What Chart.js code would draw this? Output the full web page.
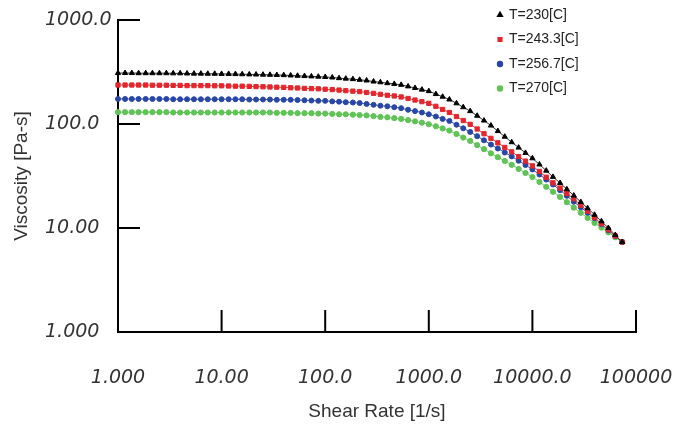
<!DOCTYPE html>
<html>
<head>
<meta charset="utf-8">
<script src="https://cdn.jsdelivr.net/npm/chart.js@4.4.1/dist/chart.umd.min.js"></script>
<style>
    body { margin: 0; background: #fff; }
    canvas { display: block; }
</style>
</head>
<body>
<canvas id="chart" width="680" height="432"></canvas>
<script>
// Datos
const shearRate = [1, 1.17, 1.36, 1.58, 1.85, 2.15, 2.51, 2.93, 3.41, 3.98, 4.64, 5.41, 6.31, 7.36, 8.58,
    10, 11.7, 13.6, 15.8, 18.5, 21.5, 25.1, 29.3, 34.1, 39.8, 46.4, 54.1, 63.1, 73.6, 85.8,
    100, 117, 136, 158, 185, 215, 251, 293, 341, 398, 464, 541, 631, 736, 858,
    1000, 1170, 1360, 1580, 1850, 2150, 2510, 2930, 3410, 3980, 4640, 5410, 6310, 7360, 8580,
    10000, 11700, 13600, 15800, 18500, 21500, 25100, 29300, 34100, 39800, 46400, 54100, 63100, 73600]

const visc230 = [309, 309, 309, 308, 308, 308, 308, 308, 307, 307, 306, 305, 305, 304, 304,
    303, 303, 302, 301, 300, 299, 298, 297, 296, 295, 293, 291, 289, 287, 285,
    283, 280, 276, 273, 270, 266, 262, 256, 252, 247, 243, 238, 230, 222, 214,
    207, 194, 183, 172, 158, 145, 133, 120, 108, 96.6, 85.5, 75.5, 66.8, 59.3, 52.7,
    46.8, 40.8, 35.6, 31.0, 27.1, 23.6, 20.5, 17.8, 15.5, 13.4, 11.6, 10.0, 8.57, 7.33]

const visc243 = [237, 237, 237, 237, 237, 236, 236, 236, 235, 235, 234, 234, 234, 234, 233,
    233, 232, 231, 231, 230, 229, 228, 227, 226, 225, 223, 222, 220, 219, 218,
    216, 214, 212, 209, 207, 205, 201, 197, 193, 189, 186, 182, 176, 170, 164,
    158, 148, 138, 129, 118, 108, 99.3, 89.5, 80.7, 72.8, 65.9, 59.6, 54.0, 48.6, 44.0,
    39.6, 35.0, 30.8, 27.2, 24.2, 21.5, 19.1, 16.6, 14.5, 12.6, 11.0, 9.61, 8.39, 7.33]

const visc256 = [174, 174, 174, 174, 174, 174, 174, 174, 173, 173, 173, 173, 173, 173, 173,
    173, 173, 173, 173, 172, 172, 172, 172, 171, 171, 171, 170, 169, 168, 167,
    167, 165, 164, 162, 161, 159, 156, 153, 150, 148, 145, 142, 137, 133, 129,
    124, 118, 112, 107, 98.4, 91.0, 83.9, 76.4, 69.7, 63.4, 58.1, 53.2, 48.8, 44.3, 40.3,
    36.6, 32.7, 29.2, 26.2, 23.1, 20.4, 17.9, 15.8, 14.0, 12.4, 10.9, 9.53, 8.36, 7.33]

const visc270 = [130, 130, 130, 130, 130, 130, 130, 130, 129, 129, 129, 129, 129, 129, 129,
    129, 129, 129, 129, 129, 129, 129, 129, 128, 128, 128, 127, 127, 127, 126,
    126, 125, 124, 124, 123, 122, 121, 119, 117, 116, 114, 112, 109, 106, 103,
    99.5, 95.1, 90.6, 86.5, 80.2, 74.1, 68.7, 62.7, 57.3, 52.2, 48.0, 44.1, 40.5, 37.0, 33.8,
    30.9, 27.7, 24.9, 22.3, 19.9, 17.7, 15.7, 14.0, 12.5, 11.2, 10.1, 9.08, 8.15, 7.33]

const seriesLabels = ['T=230[C]', 'T=243.3[C]', 'T=256.7[C]', 'T=270[C]']

const xTicks = [1, 10, 100, 1000, 10000, 100000]
const xTickLabels = ['1.000', '10.00', '100.0', '1000.0', '10000.0', '100000']
const yTicks = [1, 10, 100, 1000]
const yTickLabels = ['1.000', '10.00', '100.0', '1000.0']


const toPoints = values => values.map((v, i) => ({ x: shearRate[i], y: v }))

// Marcas de los ejes hacia dentro y leyenda arriba a la derecha
const innerTicks = {
    id: 'innerTicks',
    afterDraw(chart) {
        const { ctx, chartArea, scales } = chart
        ctx.save()
        ctx.strokeStyle = '#000'
        ctx.lineWidth = 2
        ctx.beginPath()
        xTicks.slice(1).forEach(v => {
            const px = scales.x.getPixelForValue(v)
            ctx.moveTo(px, chartArea.bottom)
            ctx.lineTo(px, chartArea.bottom - 22)
        })
        yTicks.slice(1).forEach(v => {
            const py = scales.y.getPixelForValue(v)
            ctx.moveTo(chartArea.left, py)
            ctx.lineTo(chartArea.left + 22, py)
        })
        ctx.stroke()

        // leyenda
        ctx.font = '14px "Liberation Sans", Arial, sans-serif'
        ctx.textBaseline = 'middle'
        chart.data.datasets.forEach((ds, i) => {
            const y = 15 + i * 24.5
            ctx.fillStyle = ds.pointBackgroundColor
            ctx.strokeStyle = ds.pointBackgroundColor
            Chart.helpers.drawPoint(ctx, { pointStyle: ds.pointStyle, radius: 2.2, borderWidth: 1, rotation: 0 }, 500, y)
            ctx.fillStyle = '#222'
            ctx.fillText(ds.label, 509, y)
        })
        ctx.restore()
    }
}

const tickFont = { family: '"DejaVu Sans", sans-serif', size: 19, style: 'italic' }
const titleFont = { family: '"Liberation Sans", Arial, sans-serif', size: 19 }

const data = {
    datasets: [
        {
            label: seriesLabels[0],
            data: toPoints(visc230),
            borderColor: '#333',
            pointBackgroundColor: '#000',
            pointBorderColor: '#000',
            pointStyle: 'triangle',
            pointRadius: 3
        },
        {
            label: seriesLabels[1],
            data: toPoints(visc243),
            borderColor: 'rgb(232, 60, 65)',
            pointBackgroundColor: 'rgb(228, 38, 44)',
            pointBorderColor: 'rgb(228, 38, 44)',
            pointStyle: 'rect',
            pointRadius: 3
        },
        {
            label: seriesLabels[2],
            data: toPoints(visc256),
            borderColor: 'rgb(60, 85, 170)',
            pointBackgroundColor: 'rgb(40, 70, 165)',
            pointBorderColor: 'rgb(40, 70, 165)',
            pointStyle: 'circle',
            pointRadius: 2.5
        },
        {
            label: seriesLabels[3],
            data: toPoints(visc270),
            borderColor: 'rgb(110, 200, 100)',
            pointBackgroundColor: 'rgb(95, 195, 85)',
            pointBorderColor: 'rgb(95, 195, 85)',
            pointStyle: 'circle',
            pointRadius: 2.6
        }
    ]
}

data.datasets.forEach(ds => {
    ds.borderWidth = 1
    ds.pointBorderWidth = 1
    ds.clip = false
    ds.tension = 0
})

const options = {
    responsive: false,
    animation: false,
    layout: { padding: { top: 20, right: 44, left: 45, bottom: 0 } },
    plugins: {
        legend: { display: false },
        tooltip: { enabled: false }
    },
    scales: {
        x: {
            type: 'logarithmic',
            min: 1,
            max: 100000,
            afterBuildTicks: scale => { scale.ticks = xTicks.map(value => ({ value })) },
            afterFit: scale => { scale.height = 100 },
            grid: { display: false, drawTicks: true, tickLength: 32 },
            border: { display: true, color: '#000', width: 2 },
            ticks: {
                color: '#333',
                font: tickFont,
                padding: 3,
                maxRotation: 0,
                autoSkip: false,
                callback: (v, i) => xTickLabels[i]
            },
            title: {
                display: true,
                text: 'Shear Rate [1/s]',
                color: '#333',
                font: titleFont,
                padding: { top: 0, bottom: 9 }
            }
        },
        y: {
            type: 'logarithmic',
            min: 1,
            max: 1000,
            afterBuildTicks: scale => { scale.ticks = yTicks.map(value => ({ value })) },
            afterFit: scale => { scale.width = 73 },
            grid: { display: false, drawTicks: false },
            border: { display: true, color: '#000', width: 2 },
            ticks: {
                color: '#333',
                font: tickFont,
                crossAlign: 'far',
                autoSkip: false,
                callback: (v, i) => yTickLabels[i]
            },
            title: {
                display: true,
                text: 'Viscosity [Pa-s]',
                color: '#333',
                font: titleFont,
                padding: { top: -35, bottom: 0 }
            }
        }
    }
}

new Chart('chart', { type: 'line', data, options, plugins: [innerTicks] })
</script>
</body>
</html>
